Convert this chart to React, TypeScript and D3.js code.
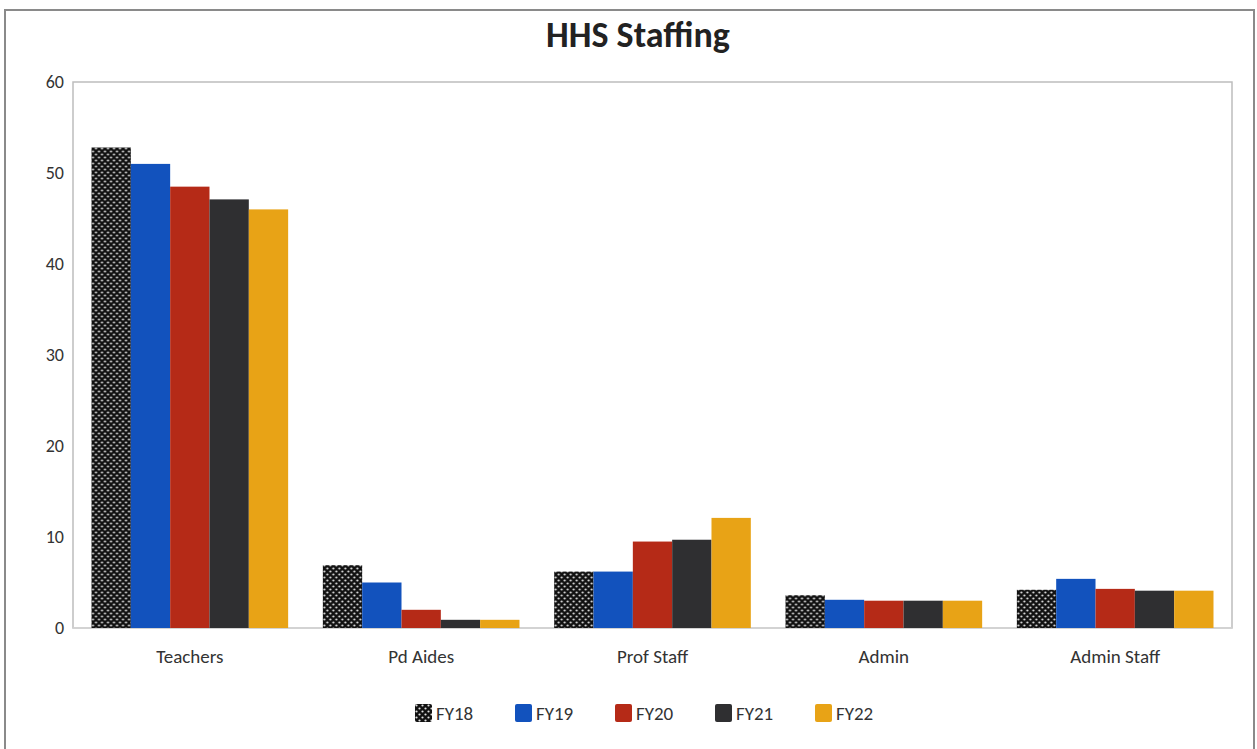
import React from "react";
import * as d3 from "d3";

const categories = ["Teachers", "Pd Aides", "Prof Staff", "Admin", "Admin Staff"];
const seriesNames = ["FY18", "FY19", "FY20", "FY21", "FY22"];
const fy18 = [52.8, 6.9, 6.2, 3.6, 4.2];
const fy19 = [51.0, 5.0, 6.2, 3.1, 5.4];
const fy20 = [48.5, 2.0, 9.5, 3.0, 4.3];
const fy21 = [47.1, 0.9, 9.7, 3.0, 4.1];
const fy22 = [46.0, 0.9, 12.1, 3.0, 4.1];
const yTicks = [0, 10, 20, 30, 40, 50, 60];
const seriesValues = [fy18, fy19, fy20, fy21, fy22];
const colors = ["url(#dots)", "#1252bd", "#b52a17", "#2f2f31", "#e8a316"];

export default function App() {
  const W = 1257, H = 749;
  const left = 73, right = 1232, top = 82, bottom = 628;
  const x0 = d3.scaleBand<string>().domain(categories).range([left, right]).paddingInner(0.15).paddingOuter(0.08);
  const x1 = d3.scaleBand<string>().domain(seriesNames).range([0, x0.bandwidth()]).padding(0);
  const y = d3.scaleLinear().domain([0, 60]).range([bottom, top]);
  const font = "Carlito, 'Open Sans', 'Liberation Sans', sans-serif";

  return (
    <svg width={W} height={H} style={{ position: "absolute", left: 0, top: 0, background: "#fff" }}>
      <defs>
        <pattern id="dots" patternUnits="userSpaceOnUse" width="6" height="6">
          <rect width="6" height="6" fill="#111" />
          <circle cx="1.5" cy="1.5" r="1.1" fill="#e0e0e0" />
          <circle cx="4.5" cy="4.5" r="1.1" fill="#e0e0e0" />
        </pattern>
      </defs>
      <rect x={0} y={0} width={W} height={H} fill="#fff" />
      <rect x={5} y={10} width={1249} height={760} fill="none" stroke="#8a8a8a" strokeWidth={2} />
      <text x={638} y={47} textAnchor="middle" fontFamily={font} fontWeight="bold" fontSize={36} fill="#222">
        HHS Staffing
      </text>
      <rect x={left} y={top} width={right - left} height={bottom - top} fill="none" stroke="#bdbdbd" strokeWidth={1.5} />
      <line x1={left} x2={right} y1={bottom} y2={bottom} stroke="#d4d4d4" strokeWidth={1.5} />
      {yTicks.map((t) => (
        <text key={t} x={64} y={y(t) + 6} textAnchor="end" fontFamily={font} fontSize={18} fill="#333">
          {t}
        </text>
      ))}
      {categories.map((c, ci) => (
        <g key={c} transform={`translate(${x0(c)},0)`}>
          {seriesNames.map((s, si) => {
            const v = seriesValues[si][ci];
            return (
              <rect key={s} x={x1(s)} y={y(v)} width={x1.bandwidth()} height={bottom - y(v)} fill={colors[si]} />
            );
          })}
          <text x={x0.bandwidth() / 2} y={663} textAnchor="middle" fontFamily={font} fontSize={19} fill="#333">
            {c}
          </text>
        </g>
      ))}
      {seriesNames.map((s, si) => (
        <g key={s} transform={`translate(${415 + si * 100},704)`}>
          <rect x={0} y={0} width={17} height={18} rx={2} fill={colors[si]} />
          <text x={21} y={16} fontFamily={font} fontSize={19} fill="#333">
            {s}
          </text>
        </g>
      ))}
    </svg>
  );
}
